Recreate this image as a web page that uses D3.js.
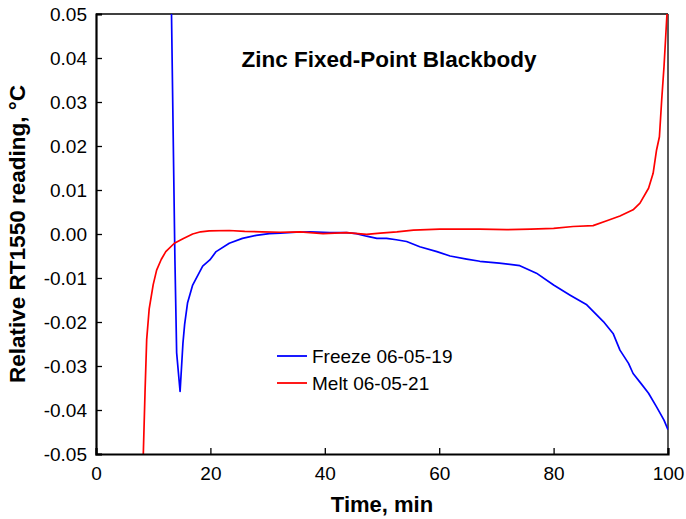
<!DOCTYPE html>
<html>
<head>
<meta charset="utf-8">
<script src="https://cdn.jsdelivr.net/npm/d3@7"></script>
<style>
  body { margin: 0; background: #fff; }
  text { font-family: "Liberation Sans", Arial, sans-serif; fill: #000; }
</style>
</head>
<body>
<svg id="chart" width="686" height="519"></svg>
<script>
// readings: time (min) and relative reading (°C)
const freezeTime = [13.0, 13.2, 13.8, 14.1, 14.7, 15.2, 15.5, 16.0, 16.9, 18.65, 19.9, 21, 23.3, 25.6, 28, 30.3,
  32.2, 35, 37.4, 40.9, 43.8, 45.5, 47.3, 49.1, 50.8, 52.5, 54.3, 56.6, 59.6, 61.9, 64.8, 67.1, 70.5,
  74.1, 77, 80, 82.9, 85.8, 88.7, 90.4, 91.6, 93.1, 93.9, 95.3, 96.6, 98, 99.3, 100];
const freezeValue = [0.062, 0.05, -0.006, -0.027, -0.0358, -0.0248, -0.0205, -0.0157, -0.0116, -0.0073, -0.0059, -0.004, -0.0021, -0.001, -0.0003, 0.0001,
  0.0002, 0.0004, 0.0005, 0.0003, 0.0003, 0.0001, -0.0005, -0.001, -0.001, -0.0013, -0.0017, -0.0029, -0.004, -0.005, -0.0057, -0.0062, -0.0066,
  -0.0072, -0.0089, -0.0116, -0.0139, -0.0161, -0.0199, -0.0226, -0.0264, -0.0294, -0.0317, -0.034, -0.0362, -0.0393, -0.0423, -0.0445];

const meltTime = [8.1, 8.27, 8.57, 8.86, 9.3, 10.0, 10.6, 11.4, 12.2, 13.7, 15.2, 16.9, 18.3, 19.8, 23.3, 26, 29,
  32.2, 35.7, 39.7, 43.8, 47.3, 49.7, 52.6, 55.5, 60.1, 67.1, 71.8, 76, 80, 83.4, 86.9, 89.3, 91.6,
  93.9, 95.1, 96.6, 97.4, 98.0, 98.5, 98.9, 99.3, 99.8, 100];
const meltValue = [-0.058, -0.05, -0.036, -0.024, -0.017, -0.0115, -0.0082, -0.0058, -0.004, -0.0021, -0.0011, 0.0, 0.0005, 0.0007, 0.0008, 0.0006, 0.0005,
  0.0004, 0.0005, 0.0001, 0.0003, -0.0001, 0.0002, 0.0005, 0.0009, 0.0011, 0.0011, 0.001, 0.0011, 0.0013, 0.0017, 0.0019, 0.003, 0.0041,
  0.0055, 0.007, 0.0104, 0.0138, 0.0191, 0.0221, 0.0305, 0.038, 0.0495, 0.052];

const xTicks = [0, 20, 40, 60, 80, 100];
const yTicks = [-0.05, -0.04, -0.03, -0.02, -0.01, 0.00, 0.01, 0.02, 0.03, 0.04, 0.05];

const series = [
  {name: "Freeze 06-05-19", color: "#0000ff", time: freezeTime, value: freezeValue},
  {name: "Melt 06-05-21", color: "#ff0000", time: meltTime, value: meltValue}
];

const plotLeft = 96, plotRight = 668, plotTop = 14, plotBottom = 454;
const svg = d3.select("#chart");

const x = d3.scaleLinear().domain([0, 100]).range([plotLeft, plotRight]);
const y = d3.scaleLinear().domain([-0.05, 0.05]).range([plotBottom, plotTop]);

svg.append("clipPath").attr("id", "plot-clip")
  .append("rect")
  .attr("x", plotLeft).attr("y", plotTop)
  .attr("width", plotRight - plotLeft).attr("height", plotBottom - plotTop);

// frame (top and right are thinner)
svg.append("line").attr("x1", plotLeft).attr("x2", plotRight).attr("y1", plotTop).attr("y2", plotTop)
  .attr("stroke", "#000").attr("stroke-width", 1.3);
svg.append("line").attr("x1", plotRight).attr("x2", plotRight).attr("y1", plotTop).attr("y2", plotBottom)
  .attr("stroke", "#000").attr("stroke-width", 1.3);

const line = d3.line()
  .x(d => x(d[0]))
  .y(d => y(d[1]));

series.forEach(s => {
  svg.append("path")
    .datum(s.time.map((t, i) => [t, s.value[i]]))
    .attr("clip-path", "url(#plot-clip)")
    .attr("fill", "none")
    .attr("stroke", s.color)
    .attr("stroke-width", 1.7)
    .attr("stroke-linejoin", "round")
    .attr("d", line);
});

// plain hyphen for negatives, like the original
const fmtY = d => d3.format(".2f")(d).replace("\u2212", "-");

// axes with inward ticks
const xAxis = svg.append("g")
  .attr("transform", `translate(0,${plotBottom})`)
  .call(d3.axisBottom(x).tickValues(xTicks).tickSize(-6).tickPadding(13).tickFormat(d3.format("d")));
const yAxis = svg.append("g")
  .attr("transform", `translate(${plotLeft},0)`)
  .call(d3.axisLeft(y).tickValues(yTicks).tickSize(-6).tickPadding(9).tickFormat(fmtY));

[xAxis, yAxis].forEach(g => {
  g.select(".domain").attr("stroke", "#000").attr("stroke-width", 2.2);
  g.selectAll(".tick line").attr("stroke", "#000").attr("stroke-width", 1.3);
  g.selectAll(".tick text").attr("font-size", 19).style("font-family", "'Liberation Sans', Arial, sans-serif");
});
xAxis.selectAll(".tick text").attr("dy", "0.71em");

// titles
svg.append("text")
  .attr("x", 389).attr("y", 67)
  .attr("text-anchor", "middle")
  .attr("font-size", 22.5).attr("font-weight", "bold")
  .text("Zinc Fixed-Point Blackbody");

svg.append("text")
  .attr("x", (plotLeft + plotRight) / 2).attr("y", 512)
  .attr("text-anchor", "middle")
  .attr("font-size", 22).attr("font-weight", "bold")
  .text("Time, min");

svg.append("text")
  .attr("transform", `translate(25,${(plotTop + plotBottom) / 2}) rotate(-90)`)
  .attr("text-anchor", "middle")
  .attr("font-size", 22.5).attr("font-weight", "bold")
  .text("Relative RT1550 reading, °C");

// legend
const legend = svg.append("g");
series.forEach((s, i) => {
  const ly = 356 + i * 27;
  legend.append("line")
    .attr("x1", 277).attr("x2", 307).attr("y1", ly).attr("y2", ly)
    .attr("stroke", s.color).attr("stroke-width", 1.8);
  legend.append("text")
    .attr("x", 312).attr("y", ly + 7)
    .attr("font-size", 19)
    .text(s.name);
});
</script>
</body>
</html>
